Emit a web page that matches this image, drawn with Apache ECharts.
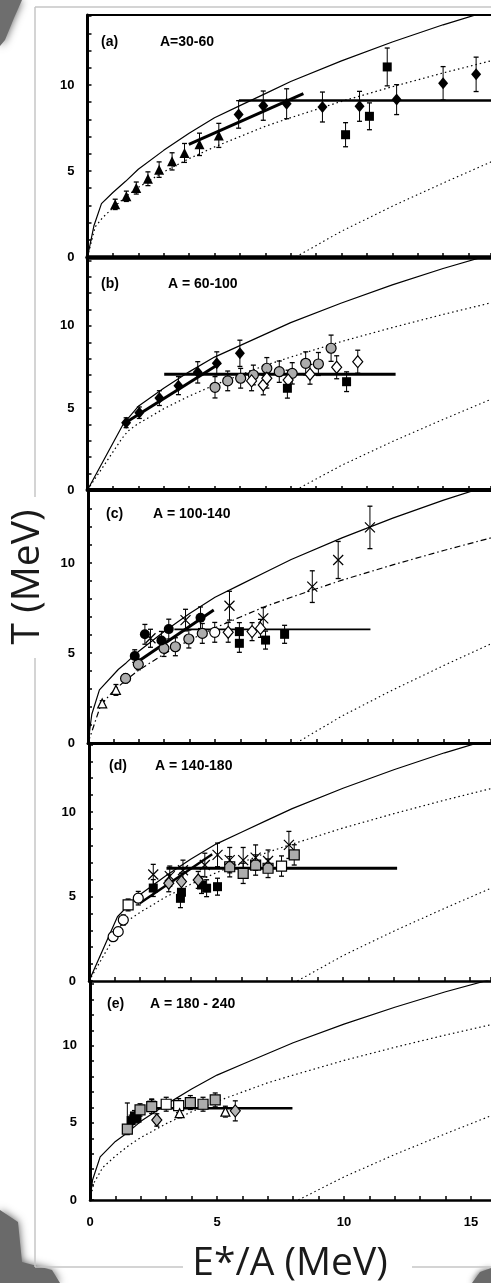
<!DOCTYPE html>
<html>
<head>
<meta charset="utf-8">
<script src="https://cdn.jsdelivr.net/npm/echarts@6/dist/echarts.min.js"></script>
<style>
  html, body { margin: 0; padding: 0; background: #fff; }
  #chart { width: 491px; height: 1283px; }
</style>
</head>
<body>
<div id="chart"></div>
<script>
// ---- Reference curves, points [E*/A, T] ----
const solidTail = [[2,5.1],[3,6.2],[4,7.2],[5,8.1],[6,8.8],[7,9.5],[8,10.2],[10,11.4],[12,12.5],[14,13.5],[16,14.4]];
const upperTail = [[2,4.05],[3,4.95],[4,5.72],[5,6.4],[6,7.0],[7,7.6],[8,8.1],[10,9.05],[12,9.9],[14,10.7],[16,11.45]];
const lowerLine = [[8.2,0],[10,1.5],[12,2.95],[14,4.3],[16,5.6]];

const solidHeadA = [[0,0],[0.25,1.8],[0.55,3.1],[1,3.75],[1.5,4.4]];
const solidHeadB = [[0,0],[1.42,4.05]];
const solidHeadC = [[0,0],[0.15,1.6],[0.45,2.95],[1.2,4.1],[1.5,4.45]];
const solidHeadD = [[0,0],[1.12,3.8],[1.5,4.4]];
const solidHeadE = [[0,0],[0.1,1.3],[0.4,2.8],[1,3.8],[1.5,4.4]];

const upperHeadA = [[0,0],[0.3,1.75],[0.6,2.3],[1,2.85],[1.5,3.5]];
const upperHeadB = [[0,0],[1.36,3.15],[1.6,3.6]];
const upperHeadC = [[0,0],[0.5,2.1],[1,2.9],[1.5,3.5]];
const upperHeadD = [[0,0],[1.3,3.4],[1.6,3.65]];
const upperHeadE = [[0,0],[0.15,1.1],[0.5,2.1],[1,2.85],[1.5,3.5]];

// ---- Fitted trend lines [E*/A, T] ----
const aRise = [[3.99,6.55],[8.5,9.5]];
const aFlat = [[5.96,9.1],[16,9.1]];
const bRise = [[1.6,4.2],[5.25,7.75]];
const bFlat = [[3.02,7.05],[12.13,7.05]];
const cRise = [[1.87,4.43],[4.95,7.39]];
const cFlat = [[3.4,6.31],[11.12,6.31]];
const dRise = [[2.0,4.6],[4.85,7.5]];
const dFlat = [[3.05,6.67],[12.13,6.67]];
const eFlat = [[2.49,5.95],[7.97,5.95]];

// ---- Measurements [E*/A, T, error below, error above (optional)] ----
// (a) A = 30-60
const aTriFilled = [[1.09,3.06,0.3],[1.53,3.53,0.3],[1.92,4.01,0.35],[2.38,4.55,0.4],[2.82,5.08,0.45],[3.33,5.56,0.5],[3.82,6.05,0.55],[4.41,6.55,0.65],[5.17,7.07,0.7]];
const aDiaFilled = [[5.95,8.29,0.8],[6.92,8.8,0.85],[7.84,8.91,0.87],[9.25,8.72,0.87],[10.71,8.76,0.87],[12.17,9.15,0.87],[14.0,10.1,0.97],[15.3,10.62,1.0]];
const aSqFilled  = [[10.16,7.11,0.7],[11.1,8.18,0.78],[11.8,11.05,1.1]];
// (b) A = 60-100
const bDiaFilled = [[1.52,4.1,0.3],[2.04,4.71,0.35],[2.83,5.6,0.45],[3.58,6.36,0.55],[4.34,7.17,0.65],[5.09,7.72,0.7],[6.0,8.33,0.8]];
const bCircGray  = [[5.02,6.26,0.65],[5.52,6.65,0.6],[6.03,6.81,0.6],[6.53,7.01,0.6],[7.06,7.42,0.65],[7.55,7.21,0.65],[8.06,7.11,0.65],[8.59,7.72,0.7],[9.09,7.68,0.7],[9.59,8.64,0.8]];
const bDiaOpen   = [[6.46,6.65,0.6],[6.92,6.4,0.6],[7.06,6.81,0.6],[7.9,6.7,0.6],[8.76,7.05,0.6],[9.81,7.48,0.7],[10.64,7.82,0.7]];
const bSqFilled  = [[7.87,6.2,0.6],[10.2,6.6,0.6]];
// (c) A = 100-140
const cTriOpen    = [[0.56,2.2,0.15],[1.1,2.95,0.3]];
const cCircGray   = [[1.48,3.59,0.25],[1.98,4.37,0.3],[2.99,5.26,0.45],[3.44,5.35,0.5],[3.97,5.78,0.5],[4.5,6.09,0.55]];
const cCircFilled = [[1.84,4.83,0.35],[2.24,6.04,0.55],[2.89,5.7,0.5],[3.18,6.33,0.55],[4.43,6.96,0.6]];
const cCross      = [[2.46,5.82,0.5],[3.84,6.83,0.6],[5.57,7.63,0.8],[6.9,6.93,0.6],[8.83,8.69,0.88],[9.85,10.17,1.03],[11.1,11.98,1.18]];
const cCircOpen   = [[4.99,6.15,0.55]];
const cDiaOpen    = [[5.52,6.15,0.55],[6.46,6.19,0.5],[6.79,6.37,0.5]];
const cSqFilled   = [[5.96,6.19,0.5],[5.96,5.54,0.5],[6.99,5.72,0.5],[7.74,6.04,0.5]];
// (d) A = 140-180
const dCircOpen  = [[0.95,2.62,0.2],[1.15,2.92,0.25],[1.35,3.61,0.3],[1.94,4.9,0.4]];
const dSqOpen    = [[1.54,4.5,0.35],[7.58,6.8,0.6]];
const dSqFilled  = [[2.53,5.5,0.5],[3.6,4.89,0.55],[3.64,5.25,0.5],[4.43,5.68,0.5],[4.63,5.49,0.5],[5.06,5.58,0.5]];
const dCross     = [[2.53,6.3,0.6],[3.18,6.2,0.6],[3.7,6.55,0.6],[4.56,6.86,0.7],[5.06,7.46,0.7],[5.54,7.15,0.75],[6.07,7.15,0.75],[6.56,7.3,0.75],[7.05,7.1,0.65],[7.87,8.05,0.8]];
const dDiaGray   = [[3.14,5.78,0.5],[3.64,5.88,0.5],[4.3,5.98,0.5]];
const dSqGray    = [[5.54,6.76,0.6],[6.07,6.37,0.6],[6.56,6.86,0.6],[7.05,6.67,0.55],[8.08,7.46,0.6]];
// (e) A = 180-240
const eSqGray    = [[1.47,4.59,0.35,1.7],[1.97,5.84,0.4],[2.43,6.06,0.45],[3.95,6.32,0.45],[4.45,6.21,0.45],[4.93,6.49,0.45]];
const eSqFilled  = [[1.62,5.15,0.35],[1.75,5.45,0.35],[1.85,5.3,0.3],[2.43,6.15,0.4]];
const eSqOpen    = [[3.0,6.21,0.45],[3.49,6.12,0.45]];
const eTriOpen   = [[3.53,5.63,0.3],[5.33,5.73,0.35]];
const eDiaGray   = [[2.63,5.19,0.4],[5.72,5.78,0.65]];

// ---- Axis ticks ----
const yTickLabels = [0, 5, 10];
const xTickLabels = [0, 5, 10, 15];
const panelTitles = [['(a)','A=30-60'],['(b)','A = 60-100'],['(c)','A = 100-140'],['(d)','A = 140-180'],['(e)','A = 180 - 240']];

// ---- Layout (pixels) ----
const PX_PER_UNIT = 25.4;
const W = 491;
const layout = [
  {left: 87.5, top: 15,  height: 242, ymax: 14.07, axisW: 4.5, titleY: 43,   titleX: [101, 160]},
  {left: 87.5, top: 257, height: 233, ymax: 14.2,  axisW: 4,   titleY: 285,  titleX: [101, 168]},
  {left: 88,   top: 490, height: 253, ymax: 14.06, axisW: 3,   titleY: 515,  titleX: [106, 153]},
  {left: 89,   top: 743, height: 238, ymax: 14.08, axisW: 2.5, titleY: 767,  titleX: [109, 155]},
  {left: 90,   top: 981, height: 219, ymax: 14.2,  axisW: 2.5, titleY: 1005, titleX: [107, 150]}
];

// ---- Marker styles ----
const CROSS = 'path://M0,0L10,10M10,0L0,10';
const mk = {
  triFilled:  {symbol: 'triangle', size: 10, color: '#000'},
  triOpen:    {symbol: 'triangle', size: 9,  color: '#fff', border: '#000'},
  diaFilled:  {symbol: 'diamond',  size: [10, 12], color: '#000'},
  diaOpen:    {symbol: 'diamond',  size: [10, 12], color: '#fff', border: '#000'},
  diaGray:    {symbol: 'diamond',  size: [10, 12], color: '#b4b4b4', border: '#000'},
  sqFilled:   {symbol: 'rect',     size: 9,  color: '#000'},
  sqOpen:     {symbol: 'rect',     size: 10, color: '#fff', border: '#000'},
  sqGray:     {symbol: 'rect',     size: 10, color: '#acacac', border: '#000'},
  circFilled: {symbol: 'circle',   size: 10, color: '#000'},
  circOpen:   {symbol: 'circle',   size: 10, color: '#fff', border: '#000'},
  circGray:   {symbol: 'circle',   size: 10, color: '#acacac', border: '#000'},
  cross:      {symbol: CROSS,      size: 10, color: 'rgba(0,0,0,0)', border: '#000'}
};

const panelData = [
  {solid: solidHeadA.concat(solidTail), upper: upperHeadA.concat(upperTail), upperDash: [1.5, 3],
   trends: [[aRise, 3], [aFlat, 2.5]],
   sets: [[aTriFilled, mk.triFilled], [aDiaFilled, mk.diaFilled], [aSqFilled, mk.sqFilled]]},
  {solid: solidHeadB.concat(solidTail), upper: upperHeadB.concat(upperTail), upperDash: [1.5, 3],
   trends: [[bRise, 3], [bFlat, 3]],
   sets: [[bDiaFilled, mk.diaFilled], [bCircGray, mk.circGray], [bDiaOpen, mk.diaOpen], [bSqFilled, mk.sqFilled]]},
  {solid: solidHeadC.concat(solidTail), upper: upperHeadC.concat(upperTail), upperDash: [6, 3, 1.5, 3],
   trends: [[cRise, 3], [cFlat, 1.8]],
   sets: [[cTriOpen, mk.triOpen], [cCircGray, mk.circGray], [cCircFilled, mk.circFilled], [cCross, mk.cross],
          [cCircOpen, mk.circOpen], [cDiaOpen, mk.diaOpen], [cSqFilled, mk.sqFilled]]},
  {solid: solidHeadD.concat(solidTail), upper: upperHeadD.concat(upperTail), upperDash: [1.5, 3],
   trends: [[dRise, 2.5], [dFlat, 3]],
   sets: [[dCircOpen, mk.circOpen], [dSqOpen, mk.sqOpen], [dSqFilled, mk.sqFilled], [dDiaGray, mk.diaGray],
          [dSqGray, mk.sqGray], [dCross, mk.cross]]},
  {solid: solidHeadE.concat(solidTail), upper: upperHeadE.concat(upperTail), upperDash: [1.5, 3],
   trends: [[eFlat, 2.5]],
   sets: [[eSqFilled, mk.sqFilled], [eSqGray, mk.sqGray], [eSqOpen, mk.sqOpen], [eTriOpen, mk.triOpen], [eDiaGray, mk.diaGray]]}
];

const FONT = '"Liberation Sans", Arial, sans-serif';

function errorBars(i, pts) {
  return {
    type: 'custom', xAxisIndex: i, yAxisIndex: i, clip: true, silent: true, z: 3,
    data: pts.map(p => [p[0], p[1], p[2], p.length > 3 ? p[3] : p[2]]),
    encode: {x: 0, y: 1},
    renderItem: (params, api) => {
      const x = api.value(0), y = api.value(1);
      const hi = api.coord([x, y + api.value(3)]);
      const lo = api.coord([x, y - api.value(2)]);
      const c = 2.5, st = {stroke: '#000', lineWidth: 1};
      return {type: 'group', children: [
        {type: 'line', shape: {x1: hi[0], y1: hi[1], x2: lo[0], y2: lo[1]}, style: st},
        {type: 'line', shape: {x1: hi[0] - c, y1: hi[1], x2: hi[0] + c, y2: hi[1]}, style: {stroke: '#000', lineWidth: 1.3}},
        {type: 'line', shape: {x1: lo[0] - c, y1: lo[1], x2: lo[0] + c, y2: lo[1]}, style: {stroke: '#000', lineWidth: 1.3}}
      ]};
    }
  };
}

function line(i, pts, width, type) {
  return {type: 'line', xAxisIndex: i, yAxisIndex: i, data: pts, symbol: 'none', showSymbol: false,
          silent: true, z: 2, clip: true, lineStyle: {color: '#000', width: width, type: type || 'solid'}};
}

function markers(i, pts, s) {
  return {type: 'scatter', xAxisIndex: i, yAxisIndex: i, data: pts.map(p => [p[0], p[1]]),
          symbol: s.symbol, symbolSize: s.size, silent: true, z: 4, clip: true,
          itemStyle: {color: s.color, borderColor: s.border || s.color, borderWidth: s.border ? 1.2 : 0, opacity: 1}};
}

const grids = [], xAxes = [], yAxes = [], series = [], graphics = [];

layout.forEach((L, i) => {
  const width = W - L.left;
  grids.push({left: L.left, top: L.top, width: width, height: L.height, containLabel: false});
  const last = i === layout.length - 1;
  xAxes.push({
    type: 'value', gridIndex: i, min: 0, max: width / PX_PER_UNIT, interval: 1,
    axisLine: {show: true, onZero: false, lineStyle: {color: '#000', width: L.axisW}},
    axisTick: {show: true, inside: true, length: 4, lineStyle: {color: '#000', width: 1.5}},
    axisLabel: {show: last, margin: 16, color: '#000', fontFamily: FONT, fontWeight: 'bold', fontSize: 13,
                showMaxLabel: false,
                formatter: v => xTickLabels.includes(v) ? String(v) : ''},
    splitLine: {show: false}
  });
  yAxes.push({
    type: 'value', gridIndex: i, min: 0, max: L.ymax, interval: 1,
    axisLine: {show: true, onZero: false, lineStyle: {color: '#000', width: 3}},
    axisTick: {show: true, inside: true, length: 4, lineStyle: {color: '#000', width: 1.5}},
    axisLabel: {margin: 13, color: '#000', fontFamily: FONT, fontWeight: 'bold', fontSize: 13,
                showMaxLabel: false,
                formatter: v => yTickLabels.includes(v) ? String(v) : ''},
    splitLine: {show: false}
  });

  const P = panelData[i];
  series.push(line(i, P.solid, 1.2));
  series.push(line(i, P.upper, 1.2, P.upperDash));
  series.push(line(i, lowerLine, 1.1, [1.5, 3]));
  P.trends.forEach(t => series.push(line(i, t[0], t[1])));
  P.sets.forEach(s => series.push(errorBars(i, s[0])));
  P.sets.forEach(s => series.push(markers(i, s[0], s[1])));

  graphics.push({type: 'text', left: L.titleX[0], top: L.titleY - 8,
    style: {text: panelTitles[i][0], font: 'bold 14px ' + FONT, fill: '#000'}});
  graphics.push({type: 'text', left: L.titleX[1], top: L.titleY - 8,
    style: {text: panelTitles[i][1], font: 'bold 14px ' + FONT, fill: '#000'}});
});

// top border of the first panel
xAxes.push({
  type: 'value', gridIndex: 0, position: 'top', min: 0, max: (W - layout[0].left) / PX_PER_UNIT,
  axisLine: {show: true, onZero: false, lineStyle: {color: '#000', width: 2}},
  axisTick: {show: false}, axisLabel: {show: false}, splitLine: {show: false}
});

// outer frame and axis titles
const frameStyle = {stroke: '#c6c6c6', lineWidth: 1.5};
graphics.push(
  {type: 'line', shape: {x1: 35, y1: 7, x2: 491, y2: 7}, style: frameStyle, z: -1},
  {type: 'line', shape: {x1: 35, y1: 7, x2: 35, y2: 497}, style: frameStyle, z: -1},
  {type: 'line', shape: {x1: 35, y1: 658, x2: 35, y2: 1267}, style: frameStyle, z: -1},
  {type: 'line', shape: {x1: 35, y1: 1267, x2: 183, y2: 1267}, style: frameStyle, z: -1},
  {type: 'line', shape: {x1: 412, y1: 1267, x2: 491, y2: 1267}, style: frameStyle, z: -1},
  {type: 'text', x: 28, y: 577, rotation: Math.PI / 2,
   style: {text: 'T (MeV)', font: '39px "Open Sans", sans-serif', fill: '#1a1a1a', align: 'center', verticalAlign: 'middle'}},
  {type: 'text', x: 290, y: 1264,
   style: {text: 'E*/A (MeV)', font: '39px "Open Sans", sans-serif', fill: '#1a1a1a', align: 'center', verticalAlign: 'middle'}},
  // shaded corner ornaments of the slide
  {type: 'polygon', shape: {points: [[0,0],[22,0],[14,18],[5,40],[0,46]]},
   style: {fill: '#6e6e6e', shadowBlur: 8, shadowColor: '#555'}, z: -2},
  {type: 'polygon', shape: {points: [[0,1210],[18,1222],[22,1262],[52,1270],[60,1283],[0,1283]]},
   style: {fill: '#6a6a6a', shadowBlur: 8, shadowColor: '#555'}, z: -2},
  {type: 'polygon', shape: {points: [[472,1283],[480,1272],[491,1268],[491,1283]]},
   style: {fill: '#6a6a6a', shadowBlur: 6, shadowColor: '#555'}, z: -2}
);

const chart = echarts.init(document.getElementById('chart'), null, {renderer: 'canvas'});
chart.setOption({
  animation: false,
  backgroundColor: '#fff',
  grid: grids,
  xAxis: xAxes,
  yAxis: yAxes,
  series: series,
  graphic: graphics
});
</script>
</body>
</html>
